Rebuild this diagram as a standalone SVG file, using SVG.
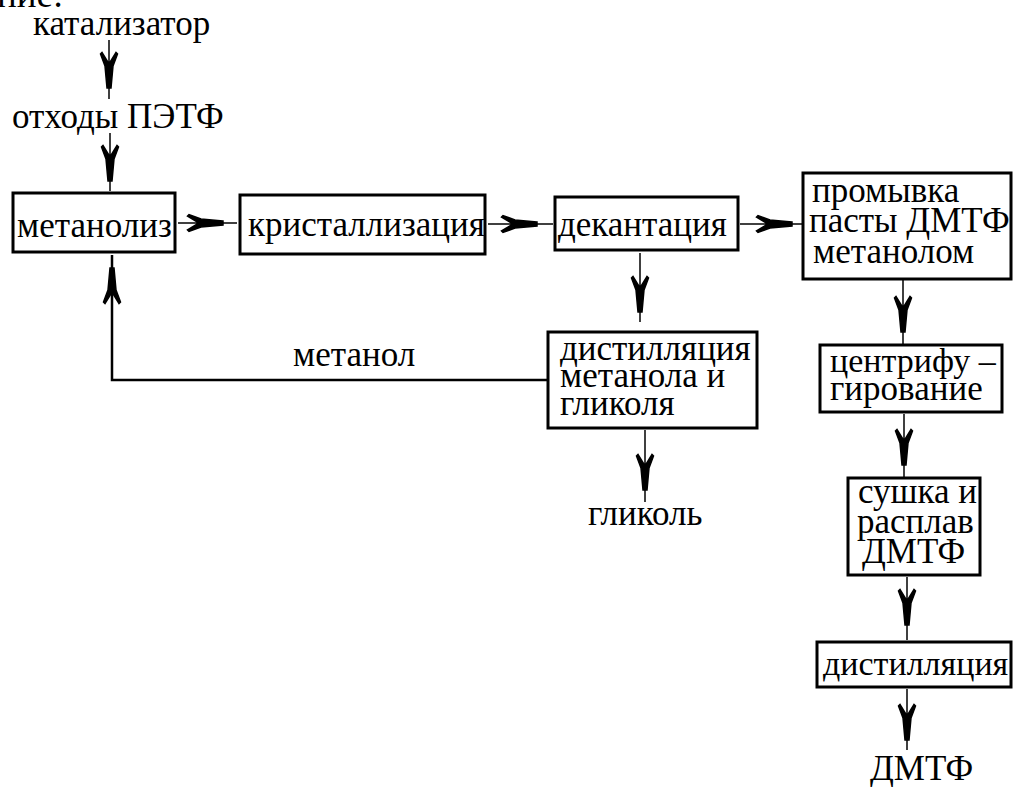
<svg xmlns="http://www.w3.org/2000/svg" width="1013" height="787" viewBox="0 0 1013 787">
<defs>
<path id="ah" d="M0,-2 L-22,-4 L-34,-8.5 L-35.5,-7 L-26,-1.2 L-26,1.2 L-35.5,7 L-34,8.5 L-22,4 L0,2 Z" fill="#000"/>
</defs>
<rect width="1013" height="787" fill="#fff"/>
<text x="-3" y="7" font-family="Liberation Serif" style="font-family:'Liberation Serif',serif;font-size:37px">ние:</text>
<g id="connectors" fill="none" stroke="#000" stroke-width="1.5">
<line x1="109" y1="40" x2="109" y2="99"/>
<use href="#ah" transform="translate(109,88) rotate(90)"/>
<line x1="110" y1="133" x2="110" y2="191"/>
<use href="#ah" transform="translate(110,181) rotate(90)"/>
<line x1="178" y1="223" x2="237" y2="223"/>
<use href="#ah" transform="translate(223,223)"/>
<line x1="488" y1="224" x2="553" y2="224"/>
<use href="#ah" transform="translate(537,224)"/>
<line x1="740" y1="224" x2="803" y2="224"/>
<use href="#ah" transform="translate(792,224)"/>
<line x1="640" y1="253" x2="640" y2="322"/>
<use href="#ah" transform="translate(640,312) rotate(90)"/>
<line x1="645" y1="430" x2="645" y2="502"/>
<use href="#ah" transform="translate(645,490) rotate(90)"/>
<polyline stroke-width="2.5" points="548,380 112,380 112,255"/>
<use href="#ah" transform="translate(112,268) rotate(-90)"/>
<line x1="903" y1="280" x2="903" y2="344"/>
<use href="#ah" transform="translate(903,332) rotate(90)"/>
<line x1="904" y1="414" x2="904" y2="477"/>
<use href="#ah" transform="translate(904,465) rotate(90)"/>
<line x1="907" y1="577" x2="907" y2="640"/>
<use href="#ah" transform="translate(907,625) rotate(90)"/>
<line x1="907" y1="689" x2="907" y2="750"/>
<use href="#ah" transform="translate(907,740) rotate(90)"/>
</g>
<g id="catalyst"><text x="33" y="35" font-family="Liberation Serif" style="font-family:'Liberation Serif',serif;font-size:35px">катализатор</text></g>
<g id="waste"><text x="12" y="128" font-family="Liberation Serif" style="font-family:'Liberation Serif',serif;font-size:35px">отходы ПЭТФ</text></g>
<g id="methanolysis"><rect x="13" y="193" width="162" height="59" fill="#fff" stroke="#000" stroke-width="3"/><text x="17" y="237" font-family="Liberation Serif" style="font-family:'Liberation Serif',serif;font-size:35px">метанолиз</text></g>
<g id="crystallization"><rect x="240" y="195" width="245" height="59" fill="#fff" stroke="#000" stroke-width="3"/><text x="248" y="236" font-family="Liberation Serif" style="font-family:'Liberation Serif',serif;font-size:35px">кристаллизация</text></g>
<g id="decantation"><rect x="555" y="197" width="183" height="53" fill="#fff" stroke="#000" stroke-width="3"/><text x="558" y="236" font-family="Liberation Serif" style="font-family:'Liberation Serif',serif;font-size:35px">декантация</text></g>
<g id="washing"><rect x="803" y="173" width="208" height="106" fill="#fff" stroke="#000" stroke-width="3"/><text x="812" y="202" font-family="Liberation Serif" style="font-family:'Liberation Serif',serif;font-size:35px">промывка</text><text x="809" y="232" font-family="Liberation Serif" style="font-family:'Liberation Serif',serif;font-size:35px">пасты ДМТФ</text><text x="813" y="263" font-family="Liberation Serif" style="font-family:'Liberation Serif',serif;font-size:35px">метанолом</text></g>
<g id="distillation1"><rect x="548" y="332" width="209" height="96" fill="#fff" stroke="#000" stroke-width="3"/><text x="560" y="360" font-family="Liberation Serif" style="font-family:'Liberation Serif',serif;font-size:35px">дистилляция</text><text x="560" y="387" font-family="Liberation Serif" style="font-family:'Liberation Serif',serif;font-size:35px">метанола и</text><text x="560" y="415" font-family="Liberation Serif" style="font-family:'Liberation Serif',serif;font-size:35px">гликоля</text></g>
<g id="methanol-label"><text x="293" y="366" font-family="Liberation Serif" style="font-family:'Liberation Serif',serif;font-size:35px">метанол</text></g>
<g id="glycol"><text x="588" y="525" font-family="Liberation Serif" style="font-family:'Liberation Serif',serif;font-size:35px">гликоль</text></g>
<g id="centrifuge"><rect x="820" y="345" width="182" height="67" fill="#fff" stroke="#000" stroke-width="3"/><text x="830" y="372" font-family="Liberation Serif" style="font-family:'Liberation Serif',serif;font-size:34px">центрифу –</text><text x="830" y="400" font-family="Liberation Serif" style="font-family:'Liberation Serif',serif;font-size:35px">гирование</text></g>
<g id="drying"><rect x="848" y="478" width="132" height="97" fill="#fff" stroke="#000" stroke-width="3"/><text x="858" y="503" font-family="Liberation Serif" style="font-family:'Liberation Serif',serif;font-size:35px">сушка и</text><text x="857" y="533" font-family="Liberation Serif" style="font-family:'Liberation Serif',serif;font-size:35px">расплав</text><text x="862" y="563" font-family="Liberation Serif" style="font-family:'Liberation Serif',serif;font-size:35px">ДМТФ</text></g>
<g id="distillation2"><rect x="817" y="642" width="194" height="45" fill="#fff" stroke="#000" stroke-width="3"/><text x="823" y="675" font-family="Liberation Serif" style="font-family:'Liberation Serif',serif;font-size:34px">дистилляция</text></g>
<g id="dmtf"><text x="870" y="780" font-family="Liberation Serif" style="font-family:'Liberation Serif',serif;font-size:35px">ДМТФ</text></g>
</svg>
